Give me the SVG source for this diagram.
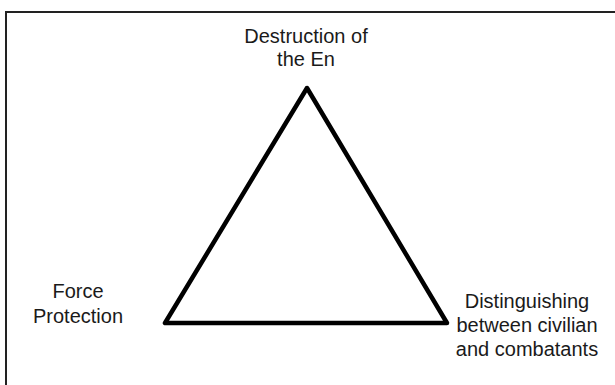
<svg xmlns="http://www.w3.org/2000/svg" width="615" height="385" viewBox="0 0 615 385">
<style>
.t{font-family:"Liberation Sans",Arial,sans-serif;font-size:20px;fill:#1a1a1a;text-anchor:middle}
</style>
<rect x="0" y="0" width="615" height="385" fill="#fff"/>
<g id="frame"><rect x="6" y="12" width="620" height="390" fill="none" stroke="#222" stroke-width="2"/></g>
<g id="connectors">
<polygon points="307,88 165,323 447,323" fill="#fff" stroke="#000" stroke-width="4.5" stroke-linejoin="round"/>
</g>
<g id="top"><text class="t" x="306" y="43">Destruction of</text><text class="t" x="306" y="66">the En</text></g>
<g id="left"><text class="t" x="78" y="298">Force</text><text class="t" x="78" y="323">Protection</text></g>
<g id="right"><text class="t" x="527" y="308">Distinguishing</text><text class="t" x="527" y="332">between civilian</text><text class="t" x="527" y="356">and combatants</text></g>
</svg>
